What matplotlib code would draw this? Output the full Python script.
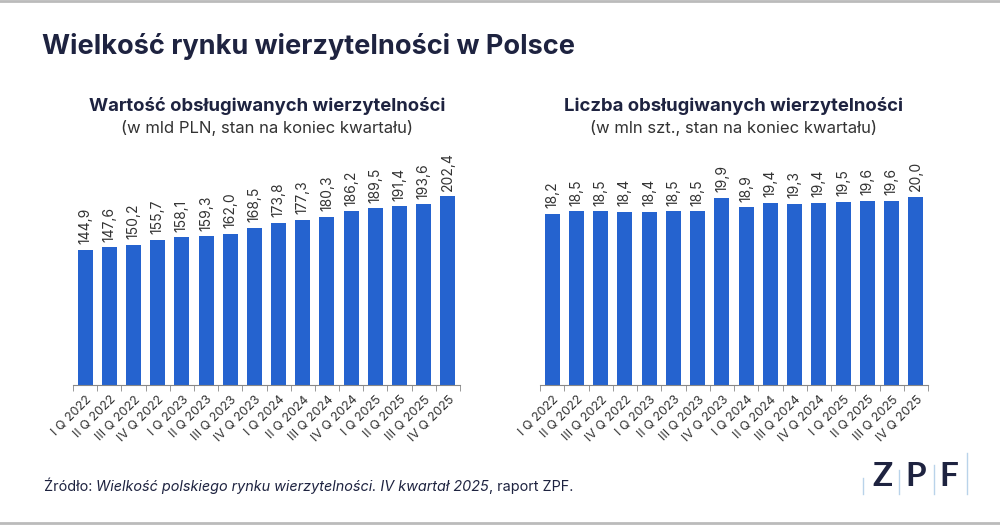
import matplotlib.pyplot as plt
from matplotlib.lines import Line2D

# dane
kwartaly = ['I Q 2022', 'II Q 2022', 'III Q 2022', 'IV Q 2022',
            'I Q 2023', 'II Q 2023', 'III Q 2023', 'IV Q 2023',
            'I Q 2024', 'II Q 2024', 'III Q 2024', 'IV Q 2024',
            'I Q 2025', 'II Q 2025', 'III Q 2025', 'IV Q 2025']
wartosc = [144.9, 147.6, 150.2, 155.7, 158.1, 159.3, 162.0, 168.5,
           173.8, 177.3, 180.3, 186.2, 189.5, 191.4, 193.6, 202.4]
liczba = [18.2, 18.5, 18.5, 18.4, 18.4, 18.5, 18.5, 19.9,
          18.9, 19.4, 19.3, 19.4, 19.5, 19.6, 19.6, 20.0]

tytul = 'Wielkość rynku wierzytelności w Polsce'
tytul_l = 'Wartość obsługiwanych wierzytelności'
podtytul_l = '(w mld PLN, stan na koniec kwartału)'
tytul_p = 'Liczba obsługiwanych wierzytelności'
podtytul_p = '(w mln szt., stan na koniec kwartału)'

NIEBIESKI = '#2563cf'
GRANAT = '#1e2340'
SZARY = '#333333'

plt.rcParams['font.family'] = ['Inter', 'DejaVu Sans']

fig = plt.figure(figsize=(10, 5.25), dpi=100)
W, H = 1000, 525


def px(x0, y0, x1, y1):
    # prostokat w pikselach (od gory) -> wspolrzedne figury
    return [x0 / W, 1 - y1 / H, (x1 - x0) / W, (y1 - y0) / H]


def wykres(rect, dane, ymax, fmt):
    ax = fig.add_axes(rect)
    x = list(range(len(dane)))
    ax.bar(x, dane, width=0.62, color=NIEBIESKI)
    ax.set_xlim(-0.5, len(dane) - 0.5)
    ax.set_ylim(0, ymax)
    for xi, v in zip(x, dane):
        ax.annotate(fmt(v), (xi, v), xytext=(0, 4), textcoords='offset points',
                    rotation=90, ha='center', va='bottom', fontsize=10,
                    color=SZARY)
    for s in ['top', 'right', 'left']:
        ax.spines[s].set_visible(False)
    ax.spines['bottom'].set_color('#888888')
    ax.set_yticks([])
    # znaczniki miedzy kategoriami
    ax.set_xticks([i - 0.5 for i in range(len(dane) + 1)], minor=True)
    ax.tick_params(axis='x', which='minor', length=4, color='#888888')
    ax.set_xticks(x)
    ax.set_xticklabels(kwartaly, rotation=45, ha='right',
                       rotation_mode='anchor', fontsize=9, color=SZARY)
    ax.tick_params(axis='x', which='major', length=0, pad=6)
    return ax


fmt = lambda v: f'{v:.1f}'.replace('.', ',')
wykres(px(73, 150, 460, 385), wartosc, 235 / 0.933, fmt)
wykres(px(540, 150, 928, 385), liczba, 235 / 9.4, fmt)

# teksty
fig.text(42 / W, 1 - 47 / H, tytul, fontsize=19.5, fontweight='bold',
         color=GRANAT, va='center')
fig.text(267 / W, 1 - 106 / H, tytul_l, fontsize=13.3, fontweight='bold',
         color=GRANAT, ha='center', va='center')
fig.text(267 / W, 1 - 128 / H, podtytul_l, fontsize=12, color=SZARY,
         ha='center', va='center')
fig.text(734 / W, 1 - 106 / H, tytul_p, fontsize=13.3, fontweight='bold',
         color=GRANAT, ha='center', va='center')
fig.text(734 / W, 1 - 128 / H, podtytul_p, fontsize=12, color=SZARY,
         ha='center', va='center')

# zrodlo - fragmenty pisane kursywa
t1 = fig.text(44 / W, 1 - 491 / H, 'Źródło: ', fontsize=10.4, color=GRANAT,
              va='baseline')
t2 = fig.text(0, 0, 'Wielkość polskiego rynku wierzytelności. IV kwartał 2025',
              fontsize=10.4, color=GRANAT, style='italic', va='baseline')
fig.canvas.draw()
r = fig.canvas.get_renderer()
bb = t1.get_window_extent(r)
t2.set_position((bb.x1 / W, t1.get_position()[1]))
bb2 = t2.get_window_extent(r)
fig.text(bb2.x1 / W, t1.get_position()[1], ', raport ZPF.', fontsize=10.4,
         color=GRANAT, va='baseline')

# logo ZPF
for lit, xl in zip('ZPF', [882, 916, 949]):
    fig.text(xl / W, 1 - 476 / H, lit, fontsize=24, fontweight='bold',
             color=GRANAT, ha='center', va='center', family=['Lato', 'DejaVu Sans'])
for xl, yt in zip([863, 899, 934, 967], [478, 470, 465, 453]):
    fig.add_artist(Line2D([xl / W, xl / W], [1 - yt / H, 1 - 494 / H],
                          color='#b9d3ea', lw=1))

# ramki gora / dol
for y in [1, 523]:
    fig.add_artist(Line2D([0, 1], [1 - y / H, 1 - y / H], color='#bbbbbb', lw=2))

fig.savefig('out.png', dpi=100)
